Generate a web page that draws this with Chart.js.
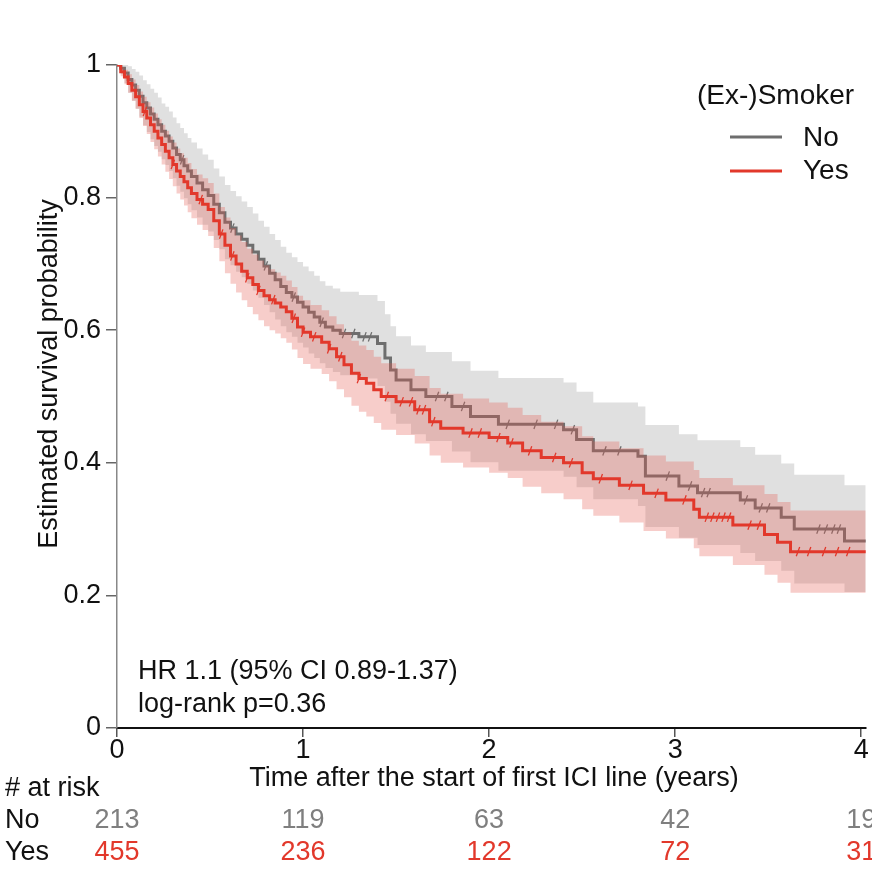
<!DOCTYPE html>
<html>
<head>
<meta charset="utf-8">
<script src="https://cdn.jsdelivr.net/npm/chart.js@4.4.1/dist/chart.umd.min.js"></script>
<style>
  html, body { margin: 0; padding: 0; background: #fff; }
  #wrap { width: 872px; height: 880px; }
</style>
</head>
<body>
<div id="wrap"><canvas id="km" width="872" height="880"></canvas></div>
<script>
// Kaplan-Meier estimates (time in years)
const noTimes = [0, 0.02, 0.04, 0.06, 0.08, 0.1, 0.12, 0.14, 0.16, 0.18, 0.2, 0.22, 0.24, 0.26, 0.28, 0.3, 0.32, 0.34, 0.36, 0.38,
  0.4, 0.43, 0.46, 0.49, 0.52, 0.55, 0.58, 0.61, 0.64, 0.67, 0.7, 0.73, 0.76, 0.79, 0.82, 0.85, 0.88, 0.91, 0.94, 0.97,
  1.0, 1.03, 1.06, 1.09, 1.12, 1.16, 1.2, 1.3, 1.4, 1.44, 1.47, 1.5, 1.58, 1.66, 1.8, 1.9, 2.05, 2.4, 2.47, 2.56,
  2.8, 2.84, 3.02, 3.12, 3.35, 3.43, 3.57, 3.64, 3.91, 4.05];
const noSurv = [1, 0.995, 0.988, 0.978, 0.97, 0.962, 0.953, 0.943, 0.935, 0.926, 0.918, 0.91, 0.9, 0.893, 0.885, 0.875, 0.865, 0.857, 0.848, 0.84,
  0.832, 0.822, 0.812, 0.803, 0.79, 0.777, 0.763, 0.754, 0.745, 0.737, 0.728, 0.718, 0.707, 0.697, 0.686, 0.676, 0.666, 0.657, 0.65, 0.642,
  0.635, 0.627, 0.62, 0.612, 0.605, 0.6, 0.595, 0.59, 0.58, 0.558, 0.54, 0.525, 0.51, 0.5, 0.485, 0.47, 0.458, 0.45, 0.435, 0.418,
  0.41, 0.38, 0.365, 0.355, 0.344, 0.332, 0.318, 0.3, 0.282, 0.282];
const noUpper = [1, 1, 1, 0.998, 0.994, 0.99, 0.984, 0.977, 0.971, 0.964, 0.958, 0.951, 0.942, 0.937, 0.93, 0.921, 0.912, 0.905, 0.897, 0.89,
  0.883, 0.874, 0.865, 0.857, 0.844, 0.832, 0.819, 0.81, 0.802, 0.794, 0.786, 0.776, 0.765, 0.756, 0.745, 0.736, 0.726, 0.717, 0.71, 0.703,
  0.696, 0.689, 0.682, 0.674, 0.667, 0.663, 0.658, 0.653, 0.644, 0.624, 0.606, 0.591, 0.577, 0.567, 0.553, 0.539, 0.528, 0.521, 0.507, 0.491,
  0.485, 0.457, 0.443, 0.434, 0.424, 0.412, 0.399, 0.382, 0.366, 0.366];
const noLower = [1, 0.986, 0.973, 0.958, 0.946, 0.934, 0.922, 0.909, 0.899, 0.888, 0.878, 0.869, 0.858, 0.849, 0.84, 0.829, 0.818, 0.809, 0.799, 0.79,
  0.781, 0.77, 0.759, 0.749, 0.736, 0.722, 0.707, 0.698, 0.688, 0.68, 0.67, 0.66, 0.649, 0.638, 0.627, 0.616, 0.606, 0.597, 0.59, 0.581,
  0.574, 0.565, 0.558, 0.55, 0.543, 0.537, 0.532, 0.527, 0.516, 0.492, 0.474, 0.459, 0.443, 0.433, 0.417, 0.401, 0.388, 0.379, 0.363, 0.345,
  0.335, 0.303, 0.287, 0.276, 0.264, 0.252, 0.237, 0.218, 0.205, 0.205];

const yesTimes = [0, 0.02, 0.04, 0.06, 0.08, 0.1, 0.12, 0.14, 0.16, 0.18, 0.2, 0.22, 0.24, 0.26, 0.28, 0.3, 0.32, 0.34, 0.36, 0.38,
  0.4, 0.43, 0.46, 0.49, 0.52, 0.55, 0.58, 0.61, 0.64, 0.67, 0.7, 0.73, 0.76, 0.79, 0.82, 0.85, 0.88, 0.91, 0.94, 0.97,
  1.0, 1.04, 1.1, 1.14, 1.18, 1.22, 1.26, 1.3, 1.34, 1.38, 1.42, 1.5, 1.6, 1.68, 1.74, 1.86, 2.0, 2.1, 2.18, 2.28,
  2.4, 2.5, 2.56, 2.7, 2.83, 2.95, 3.1, 3.13, 3.31, 3.48, 3.55, 3.62, 4.05];
const yesSurv = [1, 0.99, 0.982, 0.972, 0.962, 0.952, 0.94, 0.93, 0.92, 0.91, 0.9, 0.89, 0.88, 0.87, 0.86, 0.85, 0.84, 0.832, 0.824, 0.815,
  0.806, 0.797, 0.79, 0.782, 0.765, 0.745, 0.728, 0.712, 0.7, 0.689, 0.679, 0.669, 0.66, 0.652, 0.646, 0.641, 0.635, 0.628, 0.618, 0.605,
  0.597, 0.59, 0.582, 0.572, 0.56, 0.548, 0.535, 0.527, 0.52, 0.51, 0.5, 0.492, 0.48, 0.462, 0.452, 0.445, 0.438, 0.43, 0.418, 0.408,
  0.4, 0.385, 0.376, 0.366, 0.354, 0.344, 0.33, 0.318, 0.306, 0.292, 0.28, 0.266, 0.266];
const yesUpper = [1, 0.997, 0.993, 0.986, 0.978, 0.97, 0.96, 0.952, 0.944, 0.936, 0.927, 0.918, 0.91, 0.901, 0.892, 0.883, 0.874, 0.867, 0.86, 0.852,
  0.843, 0.835, 0.829, 0.822, 0.806, 0.786, 0.77, 0.754, 0.743, 0.733, 0.723, 0.714, 0.705, 0.698, 0.692, 0.687, 0.682, 0.675, 0.665, 0.652,
  0.645, 0.638, 0.63, 0.621, 0.609, 0.597, 0.584, 0.577, 0.57, 0.56, 0.55, 0.542, 0.531, 0.513, 0.504, 0.497, 0.491, 0.483, 0.472, 0.462,
  0.455, 0.44, 0.432, 0.422, 0.411, 0.402, 0.389, 0.377, 0.366, 0.353, 0.341, 0.328, 0.328];
const yesLower = [1, 0.983, 0.971, 0.958, 0.946, 0.934, 0.92, 0.908, 0.896, 0.884, 0.873, 0.862, 0.85, 0.839, 0.828, 0.817, 0.806, 0.797, 0.788, 0.778,
  0.769, 0.759, 0.751, 0.742, 0.724, 0.704, 0.686, 0.67, 0.657, 0.645, 0.635, 0.624, 0.615, 0.606, 0.6, 0.595, 0.588, 0.581, 0.571, 0.558,
  0.549, 0.542, 0.534, 0.523, 0.511, 0.499, 0.486, 0.477, 0.47, 0.46, 0.45, 0.442, 0.429, 0.411, 0.4, 0.393, 0.385, 0.377, 0.364, 0.354,
  0.345, 0.33, 0.32, 0.31, 0.297, 0.286, 0.271, 0.259, 0.246, 0.231, 0.219, 0.204, 0.204];

// censoring times (tick marks on the curves)
const noCensor = [0.35, 0.62, 0.8, 0.95, 1.1, 1.22, 1.27, 1.33, 1.36, 1.72, 1.77, 1.86, 2.1, 2.25, 2.36, 2.45, 2.62, 2.7, 2.96, 3.08,
  3.15, 3.18, 3.38, 3.46, 3.5, 3.77, 3.81, 3.85, 3.88];
const yesCensor = [0.15, 0.3, 0.45, 0.56, 0.62, 0.7, 0.76, 0.84, 0.95, 1.0, 1.06, 1.14, 1.2, 1.3, 1.45, 1.53, 1.58, 1.62, 1.65, 1.7,
  1.9, 1.95, 2.05, 2.12, 2.22, 2.35, 2.44, 2.6, 2.76, 2.9, 3.05, 3.17, 3.2, 3.23, 3.26, 3.29, 3.4, 3.45, 3.66, 3.72, 3.8, 3.87, 3.93];

const xTicks = [0, 1, 2, 3, 4];
const yTicks = [0, 0.2, 0.4, 0.6, 0.8, 1];
const riskNo = [213, 119, 63, 42, 19];
const riskYes = [455, 236, 122, 72, 31];

const grayCol = '#6e6e6e';
const redCol = '#e2382b';
const FONT = '"Liberation Sans", Arial, sans-serif';

function pts(ts, vs) {
  return ts.map((t, i) => ({ x: t, y: vs[i] }));
}
// value of the step curve at time t
function stepAt(ts, vs, t) {
  let s = vs[0];
  for (let i = 0; i < ts.length; i++) if (ts[i] <= t) s = vs[i];
  return s;
}
function censorPts(cs, ts, vs) {
  return cs.map(t => ({ x: t, y: stepAt(ts, vs, t) }));
}

const band = (data, color, fill, order) => ({
  data, stepped: true, borderWidth: 0, pointRadius: 0,
  backgroundColor: color, fill, order
});
const curve = (data, color, order) => ({
  data, stepped: true, borderColor: color, borderWidth: 3, pointRadius: 0, fill: false, order
});
const ticksSet = (data, color, order) => ({
  data, showLine: false, pointStyle: 'line', pointRadius: 5, pointBorderWidth: 1.3,
  pointRotation: 110, borderColor: color, pointBorderColor: color, order
});

// text, axis labels and the risk table
const kmText = {
  id: 'kmText',
  afterDraw(chart) {
    const { ctx, scales: { x, y } } = chart;
    ctx.save();
    ctx.textBaseline = 'middle';
    ctx.font = '27px ' + FONT;
    ctx.fillStyle = '#111';

    ctx.textAlign = 'right';
    yTicks.forEach(v => ctx.fillText(String(+v.toFixed(1)), x.left - 16, y.getPixelForValue(v)));

    ctx.textAlign = 'center';
    xTicks.forEach(v => ctx.fillText(String(v), x.getPixelForValue(v), 751));
    ctx.fillText('Time after the start of first ICI line (years)', 494, 779);

    ctx.save();
    ctx.translate(50, 374);
    ctx.rotate(-Math.PI / 2);
    ctx.fillText('Estimated survival probability', 0, 0);
    ctx.restore();

    ctx.textAlign = 'left';
    ctx.fillText('HR 1.1 (95% CI 0.89-1.37)', 138, 672);
    ctx.fillText('log-rank p=0.36', 138, 705);

    // risk table
    ctx.fillText('# at risk', 5, 789);
    ctx.fillText('No', 5, 821);
    ctx.fillText('Yes', 5, 853);
    ctx.textAlign = 'center';
    ctx.fillStyle = '#7f7f7f';
    riskNo.forEach((n, i) => ctx.fillText(String(n), x.getPixelForValue(xTicks[i]), 821));
    ctx.fillStyle = redCol;
    riskYes.forEach((n, i) => ctx.fillText(String(n), x.getPixelForValue(xTicks[i]), 853));

    // legend
    ctx.fillStyle = '#111';
    ctx.textAlign = 'left';
    ctx.font = '28px ' + FONT;
    ctx.fillText('(Ex-)Smoker', 697, 96);
    ctx.fillText('No', 803, 138);
    ctx.fillText('Yes', 803, 171);
    ctx.lineWidth = 3;
    ctx.strokeStyle = grayCol;
    ctx.beginPath(); ctx.moveTo(730, 137); ctx.lineTo(782, 137); ctx.stroke();
    ctx.strokeStyle = redCol;
    ctx.beginPath(); ctx.moveTo(730, 171); ctx.lineTo(782, 171); ctx.stroke();
    ctx.restore();
  }
};

new Chart(document.getElementById('km'), {
  type: 'line',
  data: {
    datasets: [
      band(pts(noTimes, noUpper), '#e0e0e0', '+1', 10),
      band(pts(noTimes, noLower), '#e0e0e0', false, 10),
      curve(pts(noTimes, noSurv), grayCol, 8),
      ticksSet(censorPts(noCensor, noTimes, noSurv), grayCol, 7),
      band(pts(yesTimes, yesUpper), 'rgba(230, 90, 80, 0.3)', '+1', 6),
      band(pts(yesTimes, yesLower), 'rgba(230, 90, 80, 0.3)', false, 6),
      curve(pts(yesTimes, yesSurv), redCol, 2),
      ticksSet(censorPts(yesCensor, yesTimes, yesSurv), redCol, 1)
    ]
  },
  options: {
    responsive: false,
    animation: false,
    layout: { padding: { top: 65, left: 0, right: 0, bottom: 0 } },
    plugins: { legend: { display: false }, tooltip: { enabled: false } },
    scales: {
      x: {
        type: 'linear', min: 0, max: 4.024,
        afterBuildTicks: s => { s.ticks = xTicks.map(v => ({ value: v })); },
        afterFit: s => { s.height = 152; },
        ticks: { display: false },
        grid: { drawOnChartArea: false, drawTicks: true, tickLength: 9, color: '#555', lineWidth: 1.5 },
        border: { display: true, color: '#111', width: 2 }
      },
      y: {
        type: 'linear', min: 0, max: 1,
        afterBuildTicks: s => { s.ticks = yTicks.map(v => ({ value: v })); },
        afterFit: s => { s.width = 117; },
        ticks: { display: false },
        grid: { drawOnChartArea: false, drawTicks: true, tickLength: 11, color: '#666', lineWidth: 1.5 },
        border: { display: true, color: '#888', width: 1.5 }
      }
    }
  },
  plugins: [kmText]
});
</script>
</body>
</html>
